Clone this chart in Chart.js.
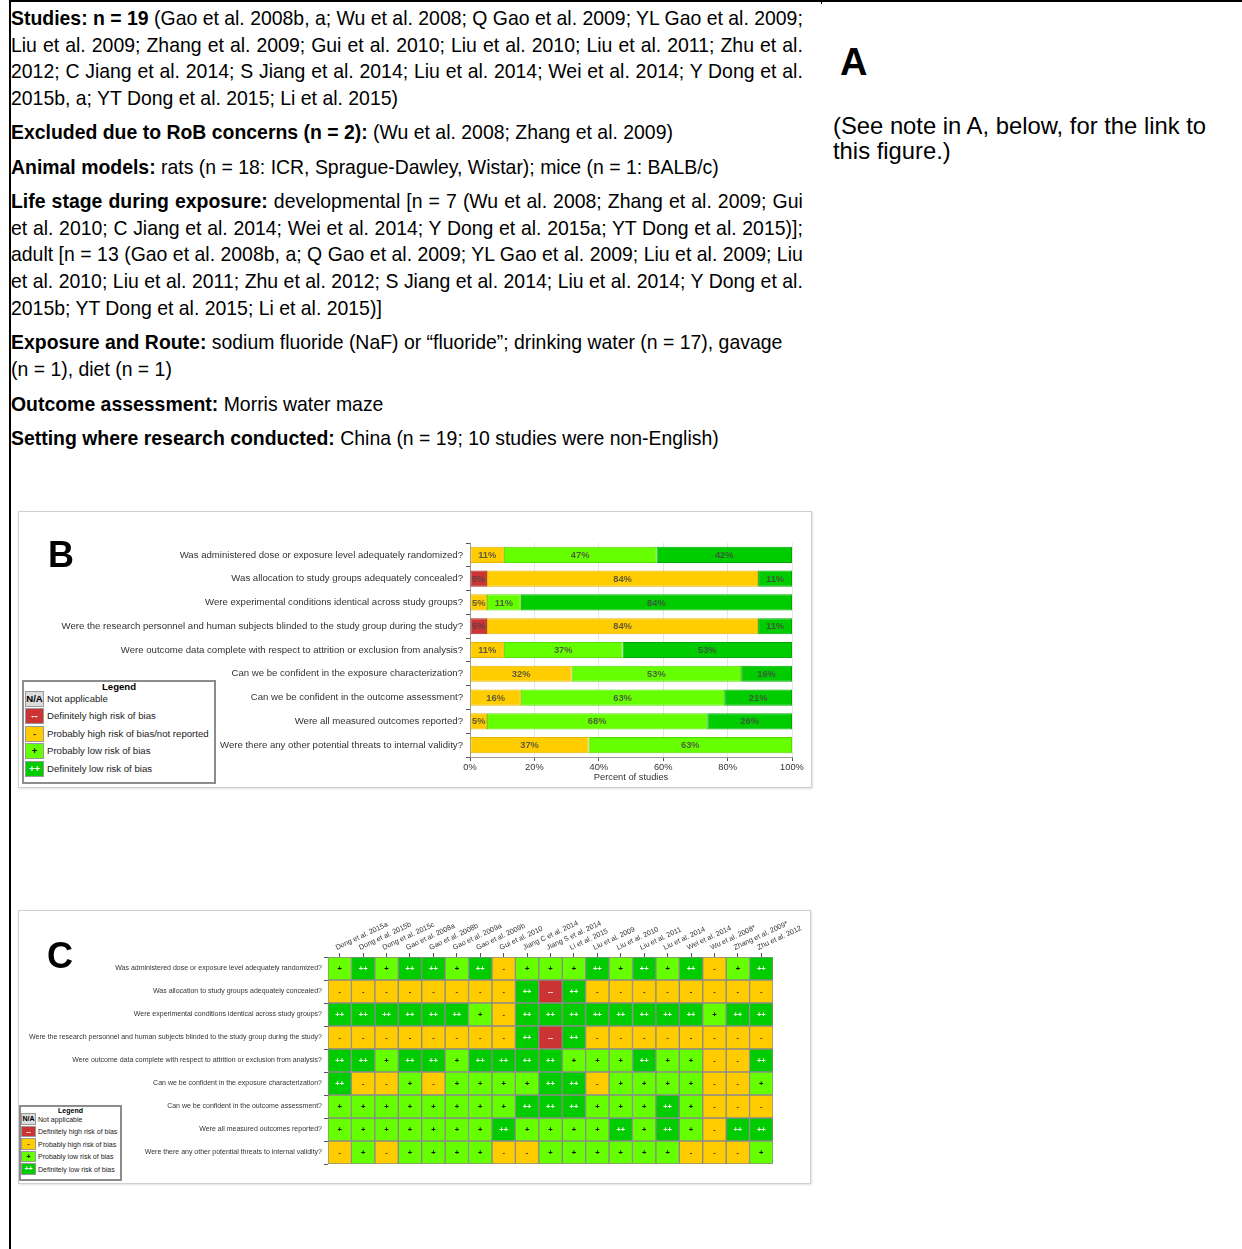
<!DOCTYPE html>
<html>
<head>
<meta charset="utf-8">
<script src="https://cdn.jsdelivr.net/npm/chart.js@4.4.1/dist/chart.umd.min.js"></script>
<style>
  body { margin: 0; background: #fff; width: 1242px; height: 1249px; position: relative; overflow: hidden; font-family: "Liberation Sans", Arial, sans-serif; }
  #frame { position: absolute; left: 9px; top: 0; width: 1240px; height: 1255px; border-top: 2px solid #000; border-left: 2px solid #000; }
  #colstub { position: absolute; left: 821px; top: 0; width: 1px; height: 4px; background: #000; }
  .p { position: absolute; left: 11px; width: 856px; font-family: "Liberation Sans Narrow", "Arial Narrow", "Liberation Sans", sans-serif; font-size: 21px; line-height: 26.7px; color: #000; white-space: nowrap; transform: scaleX(0.925); transform-origin: 0 0; }
  .p div.j { text-align: justify; text-align-last: justify; }
  #A { position: absolute; left: 840px; top: 43px; font-size: 38px; line-height: 38px; font-weight: bold; }
  #note { position: absolute; left: 833px; top: 113px; font-size: 23.8px; line-height: 25px; }
  .panel { position: absolute; border: 1px solid #cfcfcf; box-shadow: 1px 1px 2px rgba(0,0,0,0.12); background: #fff; }
  .panel canvas { position: absolute; left: 0; top: 0; }
  .plabel { position: absolute; font-weight: bold; font-size: 36px; line-height: 36px; }
  .legend { position: absolute; border: 2px solid #8c8c8c; background: #fff; box-sizing: border-box; }
  .legend .t { position: absolute; left: 0; right: 0; text-align: center; font-weight: bold; }
  .legend .sw { position: absolute; box-sizing: border-box; border: 1px solid #999; text-align: center; font-weight: bold; }
  .legend .lb { position: absolute; white-space: nowrap; color: #222; }
</style>
</head>
<body>
<div id="frame"></div>
<div id="colstub"></div>

<div class="p" style="top:5px">
  <div class="j"><b>Studies: n = 19</b> (Gao et al. 2008b, a; Wu et al. 2008; Q Gao et al. 2009; YL Gao et al. 2009;</div>
  <div class="j">Liu et al. 2009; Zhang et al. 2009; Gui et al. 2010; Liu et al. 2010; Liu et al. 2011; Zhu et al.</div>
  <div class="j">2012; C Jiang et al. 2014; S Jiang et al. 2014; Liu et al. 2014; Wei et al. 2014; Y Dong et al.</div>
  <div>2015b, a; YT Dong et al. 2015; Li et al. 2015)</div>
</div>
<div class="p" style="top:119px"><div><b>Excluded due to RoB concerns (n = 2):</b> (Wu et al. 2008; Zhang et al. 2009)</div></div>
<div class="p" style="top:154px"><div><b>Animal models:</b> rats (n = 18: ICR, Sprague-Dawley, Wistar); mice (n = 1: BALB/c)</div></div>
<div class="p" style="top:188px">
  <div class="j"><b>Life stage during exposure:</b> developmental [n = 7 (Wu et al. 2008; Zhang et al. 2009; Gui</div>
  <div class="j">et al. 2010; C Jiang et al. 2014; Wei et al. 2014; Y Dong et al. 2015a; YT Dong et al. 2015)];</div>
  <div class="j">adult [n = 13 (Gao et al. 2008b, a; Q Gao et al. 2009; YL Gao et al. 2009; Liu et al. 2009; Liu</div>
  <div class="j">et al. 2010; Liu et al. 2011; Zhu et al. 2012; S Jiang et al. 2014; Liu et al. 2014; Y Dong et al.</div>
  <div>2015b; YT Dong et al. 2015; Li et al. 2015)]</div>
</div>
<div class="p" style="top:329px">
  <div><b>Exposure and Route:</b> sodium fluoride (NaF) or “fluoride”; drinking water (n = 17), gavage</div>
  <div>(n = 1), diet (n = 1)</div>
</div>
<div class="p" style="top:391px"><div><b>Outcome assessment:</b> Morris water maze</div></div>
<div class="p" style="top:425px"><div><b>Setting where research conducted:</b> China (n = 19; 10 studies were non-English)</div></div>

<div id="A">A</div>
<div id="note">(See note in A, below, for the link to<br>this figure.)</div>

<div class="panel" style="left:18px;top:511px;width:792px;height:275px">
  <canvas id="chartB" width="792" height="275"></canvas>
  <div class="plabel" style="left:29px;top:25px">B</div>
  <div class="legend" id="legB" style="left:3px;top:168px;width:194px;height:104px"></div>
</div>

<div class="panel" style="left:18px;top:910px;width:791px;height:272px">
  <canvas id="chartC" width="791" height="272"></canvas>
  <div class="plabel" style="left:28px;top:27px">C</div>
  <div class="legend" id="legC" style="left:0px;top:194px;width:103px;height:76px"></div>
</div>

<script>
// questions (rows, shared by B and C)
const questions = [
  "Was administered dose or exposure level adequately randomized?",
  "Was allocation to study groups adequately concealed?",
  "Were experimental conditions identical across study groups?",
  "Were the research personnel and human subjects blinded to the study group during the study?",
  "Were outcome data complete with respect to attrition or exclusion from analysis?",
  "Can we be confident in the exposure characterization?",
  "Can we be confident in the outcome assessment?",
  "Were all measured outcomes reported?",
  "Were there any other potential threats to internal validity?"
];

// panel B: number of studies (of 19) per rating, per question
const nStudies = 19;
const countDefHigh  = [0, 1, 0, 1, 0, 0, 0, 0, 0];
const countProbHigh = [2, 16, 1, 16, 2, 6, 3, 1, 7];
const countProbLow  = [9, 0, 2, 0, 7, 10, 12, 13, 12];
const countDefLow   = [8, 2, 16, 2, 10, 3, 4, 5, 0];
const pctTicks = [0, 20, 40, 60, 80, 100];

// panel C: studies (columns) and rating per study for each question
const studies = [
  "Dong et al. 2015a", "Dong et al. 2015b", "Dong et al. 2015c", "Gao et al. 2008a", "Gao et al. 2008b",
  "Gao et al. 2009a", "Gao et al. 2009b", "Gui et al. 2010", "Jiang C et al. 2014", "Jiang S et al. 2014",
  "Li et al. 2015", "Liu et al. 2009", "Liu et al. 2010", "Liu et al. 2011", "Liu et al. 2014",
  "Wei et al. 2014", "Wu et al. 2008*", "Zhang et al. 2009*", "Zhu et al. 2012"
];
const rRandomized = ["+","++","+","++","++","+","++","-","+","+","+","++","+","++","+","++","-","+","++"];
const rConcealed  = ["-","-","-","-","-","-","-","-","++","--","++","-","-","-","-","-","-","-","-"];
const rIdentical  = ["++","++","++","++","++","++","+","-","++","++","++","++","++","++","++","++","+","++","++"];
const rBlinded    = ["-","-","-","-","-","-","-","-","++","--","++","-","-","-","-","-","-","-","-"];
const rComplete   = ["++","++","+","++","++","+","++","++","++","++","+","+","+","++","+","+","-","-","++"];
const rExposure   = ["++","-","-","+","-","+","+","+","+","++","++","-","+","+","+","+","-","-","+"];
const rOutcome    = ["+","+","+","+","+","+","+","+","++","++","++","+","+","+","++","+","-","-","-"];
const rReported   = ["+","+","+","+","+","+","+","++","+","+","+","+","++","+","++","+","-","++","++"];
const rOther      = ["-","+","-","+","+","+","+","-","-","+","+","+","+","+","+","-","-","-","+"];
const ratingRows = [rRandomized, rConcealed, rIdentical, rBlinded, rComplete, rExposure, rOutcome, rReported, rOther];

// legend
const legendSymbols = ["N/A", "--", "-", "+", "++"];
const legendTextB = ["Not applicable", "Definitely high risk of bias", "Probably high risk of bias/not reported", "Probably low risk of bias", "Definitely low risk of bias"];
const legendTextC = ["Not applicable", "Definitely high risk of bias", "Probably high risk of bias", "Probably low risk of bias", "Definitely low risk of bias"];

var fill = { "N/A": "#dcdcdc", "--": "#cc3333", "-": "#ffcc00", "+": "#66ff00", "++": "#00cc00" };
var edge = { "--": "#a82828", "-": "#e8b400", "+": "#55dd00", "++": "#00a800" };
var ink = { "N/A": "#000", "--": "#fff", "-": "#333", "+": "#000", "++": "#fff" };

Chart.defaults.font.family = "'Liberation Sans', Arial, sans-serif";

// draws a text in the middle of each bar
const cellText = {
  id: "cellText",
  afterDatasetsDraw(chart, args, opts) {
    const ctx = chart.ctx;
    chart.data.datasets.forEach(function(ds, di) {
      chart.getDatasetMeta(di).data.forEach(function(el, i) {
        const txt = opts.text(ds, i);
        if (!txt) return;
        const p = el.getCenterPoint();
        ctx.save();
        ctx.font = opts.font;
        ctx.fillStyle = opts.color(ds, i);
        ctx.textAlign = "center";
        ctx.textBaseline = "middle";
        ctx.fillText(txt, p.x, p.y + 0.5);
        ctx.restore();
      });
    });
  }
};

// ---- panel B
function pctSet(counts, key) {
  return {
    data: counts.map(c => c ? c / nStudies * 100 : null),
    counts: counts,
    backgroundColor: fill[key],
    borderColor: edge[key]
  };
}

new Chart(document.getElementById("chartB"), {
  type: "bar",
  data: {
    labels: questions,
    datasets: [
      pctSet(countDefHigh, "--"),
      pctSet(countProbHigh, "-"),
      pctSet(countProbLow, "+"),
      pctSet(countDefLow, "++")
    ]
  },
  options: {
    indexAxis: "y",
    responsive: false,
    animation: false,
    layout: { padding: { left: 0, right: 19, top: 31, bottom: 0 } },
    datasets: { bar: { categoryPercentage: 1, barPercentage: 0.68, borderWidth: 1, borderSkipped: false } },
    scales: {
      x: {
        stacked: true, min: 0, max: 100,
        afterBuildTicks: a => { a.ticks = pctTicks.map(v => ({ value: v })); },
        ticks: { callback: v => v + "%", font: { size: 9.3 }, color: "#333", padding: 1 },
        grid: { color: "#e4e4e4", tickColor: "#555", tickLength: 4 },
        border: { color: "#999" },
        title: { display: true, text: "Percent of studies", font: { size: 9.3 }, color: "#333", padding: { top: 0, bottom: 4 } },
        afterFit: a => { a.height = 30; a.paddingLeft = 0; a.paddingRight = 0; }
      },
      y: {
        stacked: true,
        ticks: { font: { size: 9.6 }, color: "#333", padding: 3 },
        grid: { drawOnChartArea: false, tickColor: "#555", tickLength: 4 },
        border: { color: "#999" },
        afterFit: a => { a.width = 451; a.paddingTop = 0; a.paddingBottom = 0; }
      }
    },
    plugins: {
      legend: { display: false },
      tooltip: { enabled: false },
      cellText: {
        font: "bold 9.3px 'Liberation Sans', Arial, sans-serif",
        text: (ds, i) => ds.counts[i] ? Math.round(ds.counts[i] / nStudies * 100) + "%" : "",
        color: () => "rgba(70,70,70,0.85)"
      }
    }
  },
  plugins: [cellText]
});

// ---- panel C
const cSets = studies.map(function(s, j) {
  return {
    label: s,
    data: questions.map(() => 1),
    marks: ratingRows.map(r => r[j]),
    backgroundColor: ratingRows.map(r => fill[r[j]]),
    borderColor: "#8a8a8a"
  };
});

new Chart(document.getElementById("chartC"), {
  type: "bar",
  data: { labels: questions, datasets: cSets },
  options: {
    indexAxis: "y",
    responsive: false,
    animation: false,
    layout: { padding: { left: 0, right: 37, top: 0, bottom: 19 } },
    datasets: { bar: { categoryPercentage: 1, barPercentage: 1, borderWidth: 1, borderSkipped: false } },
    scales: {
      x: {
        position: "top", stacked: true, min: 0, max: studies.length,
        afterBuildTicks: a => { a.ticks = studies.map((s, i) => ({ value: i + 0.5 })); },
        ticks: { autoSkip: false, minRotation: 25, maxRotation: 25, callback: (v, i) => studies[i], font: { size: 7.2 }, color: "#333", padding: 1 },
        grid: { drawOnChartArea: false, tickColor: "#555", tickLength: 4 },
        border: { display: false },
        afterFit: a => { a.height = 46; a.paddingLeft = 0; a.paddingRight = 0; }
      },
      y: {
        stacked: true,
        ticks: { font: { size: 7 }, color: "#333", padding: 2 },
        grid: { drawOnChartArea: false, tickColor: "#555", tickLength: 4 },
        border: { display: false },
        afterFit: a => { a.width = 309; a.paddingTop = 0; a.paddingBottom = 0; }
      }
    },
    plugins: {
      legend: { display: false },
      tooltip: { enabled: false },
      cellText: {
        font: "bold 7.5px 'Liberation Sans', Arial, sans-serif",
        text: (ds, i) => ds.marks[i],
        color: (ds, i) => ink[ds.marks[i]]
      }
    }
  },
  plugins: [cellText]
});

// ---- legends (html)
function buildLegend(id, texts, o) {
  var box = document.getElementById(id);
  var h = '<div class="t" style="top:' + o.titleTop + 'px;font-size:' + o.fs + 'px;line-height:' + o.fs + 'px">Legend</div>';
  legendSymbols.forEach(function(sym, k) {
    var cy = o.row0 + k * o.step;
    h += '<div class="sw" style="left:' + o.swLeft + 'px;top:' + (cy - o.swH / 2) + 'px;width:' + o.swW + 'px;height:' + o.swH +
      'px;line-height:' + (o.swH - 2) + 'px;font-size:' + o.fs + 'px;background:' + fill[sym] + ';color:' + ink[sym] + '">' + sym + '</div>';
    h += '<div class="lb" style="left:' + o.txLeft + 'px;top:' + (cy - o.fs / 2 - 1) + 'px;font-size:' + o.fs + 'px;line-height:' + (o.fs + 2) + 'px">' + texts[k] + '</div>';
  });
  box.innerHTML = h;
}
buildLegend("legB", legendTextB, { fs: 9.6, titleTop: 0, row0: 16.5, step: 17.5, swLeft: 1, swW: 19, swH: 16, txLeft: 23 });
buildLegend("legC", legendTextC, { fs: 7, titleTop: 0, row0: 12, step: 12.5, swLeft: 0, swW: 15, swH: 11.5, txLeft: 17 });
</script>
</body>
</html>
